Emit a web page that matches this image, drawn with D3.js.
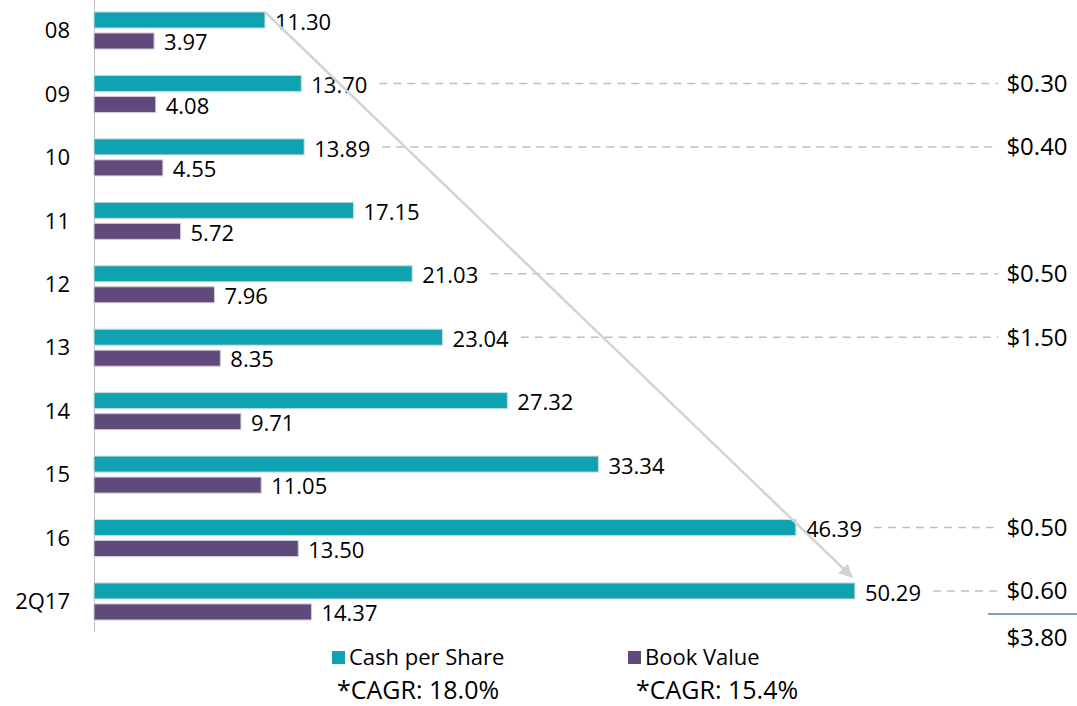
<!DOCTYPE html>
<html>
<head>
<meta charset="utf-8">
<script src="https://cdn.jsdelivr.net/npm/d3@7"></script>
<style>
  html, body { margin: 0; padding: 0; background: #fff; }
  svg { display: block; font-family: "Open Sans", "Noto Sans", sans-serif; }
</style>
</head>
<body>
<svg id="chart" width="1077" height="706"></svg>
<script>
// ---- data ----
const categories = ["08", "09", "10", "11", "12", "13", "14", "15", "16", "2Q17"];
const cashPerShare = [11.30, 13.70, 13.89, 17.15, 21.03, 23.04, 27.32, 33.34, 46.39, 50.29];
const bookValue = [3.97, 4.08, 4.55, 5.72, 7.96, 8.35, 9.71, 11.05, 13.50, 14.37];
const dividends = [null, "$0.30", "$0.40", null, "$0.50", "$1.50", null, null, "$0.50", "$0.60"];
const dividendTotal = "$3.80";
const seriesNames = ["Cash per Share", "Book Value"];
const cagrLabels = ["*CAGR: 18.0%", "*CAGR: 15.4%"];

// ---- styles ----
const teal = "#0fa3b1";
const purple = "#5f4a7b";

const svg = d3.select("#chart");

const x0 = 94;
const x = d3.scaleLinear().domain([0, 55]).range([x0, x0 + 55 * 15.13]);
const y = d3.scaleBand().domain(categories).range([-1.2, 633.2]).paddingInner(0).paddingOuter(0);
const sub = d3.scaleBand().domain(["cash", "book"]).range([13.2, 50.2]).paddingInner(0.238).paddingOuter(0);

const rows = categories.map((c, i) => ({ cat: c, cash: cashPerShare[i], book: bookValue[i], div: dividends[i] }));

// vertical axis line
svg.append("line")
  .attr("x1", x0 + 0.5).attr("x2", x0 + 0.5)
  .attr("y1", 0).attr("y2", 632)
  .attr("stroke", "#bfbfbf").attr("stroke-width", 1);

// category labels
const yAxis = d3.axisLeft(y).tickSize(0).tickPadding(24);
const gAxis = svg.append("g").attr("transform", `translate(${x0},0)`).call(yAxis);
gAxis.select(".domain").remove();
gAxis.selectAll("text")
  .attr("font-size", 22)
  .attr("fill", "#000")
  .attr("font-family", '"Open Sans", sans-serif')
  .attr("dy", "0.35em");

// bars
const g = svg.append("g");
const grp = g.selectAll("g.row").data(rows).join("g")
  .attr("class", "row")
  .attr("transform", d => `translate(0,${y(d.cat)})`);

grp.append("rect")
  .attr("x", x(0))
  .attr("y", sub("cash"))
  .attr("width", d => x(d.cash) - x(0))
  .attr("height", sub.bandwidth())
  .attr("fill", teal)
  .attr("stroke", "#c9d9dc").attr("stroke-width", 1);

grp.append("rect")
  .attr("x", x(0))
  .attr("y", sub("book"))
  .attr("width", d => x(d.book) - x(0))
  .attr("height", sub.bandwidth())
  .attr("fill", purple)
  .attr("stroke", "#cfcad6").attr("stroke-width", 1);

// value labels
const labelFont = 22;
grp.append("text")
  .attr("x", d => x(d.cash) + 10)
  .attr("y", sub("cash") + sub.bandwidth() / 2 + 2)
  .attr("dy", "0.35em")
  .attr("font-size", labelFont)
  .attr("fill", "#000")
  .text(d => d.cash.toFixed(2));

grp.append("text")
  .attr("x", d => x(d.book) + 10)
  .attr("y", sub("book") + sub.bandwidth() / 2 + 1.5)
  .attr("dy", "0.35em")
  .attr("font-size", labelFont)
  .attr("fill", "#000")
  .text(d => d.book.toFixed(2));

// dividend annotations on the right
const divX = 1037;
grp.each(function (d) {
  if (!d.div) return;
  const row = d3.select(this);
  const textNode = row.selectAll("text").nodes()[0];
  const labelEnd = textNode.getComputedTextLength() + x(d.cash) + 10;
  const cy = sub("cash") + sub.bandwidth() / 2;
  const t = row.append("text")
    .attr("x", divX)
    .attr("y", cy)
    .attr("dy", "0.35em")
    .attr("text-anchor", "middle")
    .attr("font-size", 24)
    .attr("fill", "#000")
    .text(d.div);
  const tw = t.node().getComputedTextLength();
  row.insert("line", "text")
    .attr("x1", labelEnd + 12)
    .attr("x2", divX - tw / 2 - 8)
    .attr("y1", cy).attr("y2", cy)
    .attr("stroke", "#c0c0c0")
    .attr("stroke-width", 1.5)
    .attr("stroke-dasharray", "8,6");
});

// total line + total
svg.append("line")
  .attr("x1", 988).attr("x2", 1077)
  .attr("y1", 614).attr("y2", 614)
  .attr("stroke", "#4f81bd").attr("stroke-width", 1.5);
svg.append("text")
  .attr("x", divX).attr("y", 638)
  .attr("dy", "0.35em")
  .attr("text-anchor", "middle")
  .attr("font-size", 24)
  .attr("fill", "#000")
  .text(dividendTotal);

// arrow
const defs = svg.append("defs");
defs.append("marker")
  .attr("id", "arrowhead")
  .attr("viewBox", "0 0 10 10")
  .attr("refX", 9).attr("refY", 5)
  .attr("markerWidth", 5.5).attr("markerHeight", 5.5)
  .attr("markerUnits", "strokeWidth")
  .attr("orient", "auto")
  .append("path").attr("d", "M0,0 L10,5 L0,10 Z").attr("fill", "#d3d3d3");

const first = rows[0], last = rows[rows.length - 1];
svg.append("line")
  .attr("x1", x(first.cash)).attr("y1", y(first.cat) + sub("cash"))
  .attr("x2", x(last.cash) - 3).attr("y2", y(last.cat) + sub("cash") - 6)
  .attr("stroke", "#d3d3d3").attr("stroke-width", 2.5)
  .attr("marker-end", "url(#arrowhead)");

// legend
const legend = [
  { name: seriesNames[0], color: teal, sx: 332, cagr: cagrLabels[0], cx: 337 },
  { name: seriesNames[1], color: purple, sx: 628, cagr: cagrLabels[1], cx: 636 }
];
const lg = svg.append("g");
legend.forEach(l => {
  lg.append("rect").attr("x", l.sx).attr("y", 651).attr("width", 13).attr("height", 13).attr("fill", l.color);
  lg.append("text").attr("x", l.sx + 17).attr("y", 657.5).attr("dy", "0.35em")
    .attr("font-size", 22).attr("fill", "#000").text(l.name);
  lg.append("text").attr("x", l.cx).attr("y", 699)
    .attr("font-size", 25).attr("fill", "#000").text(l.cagr);
});
</script>
</body>
</html>
